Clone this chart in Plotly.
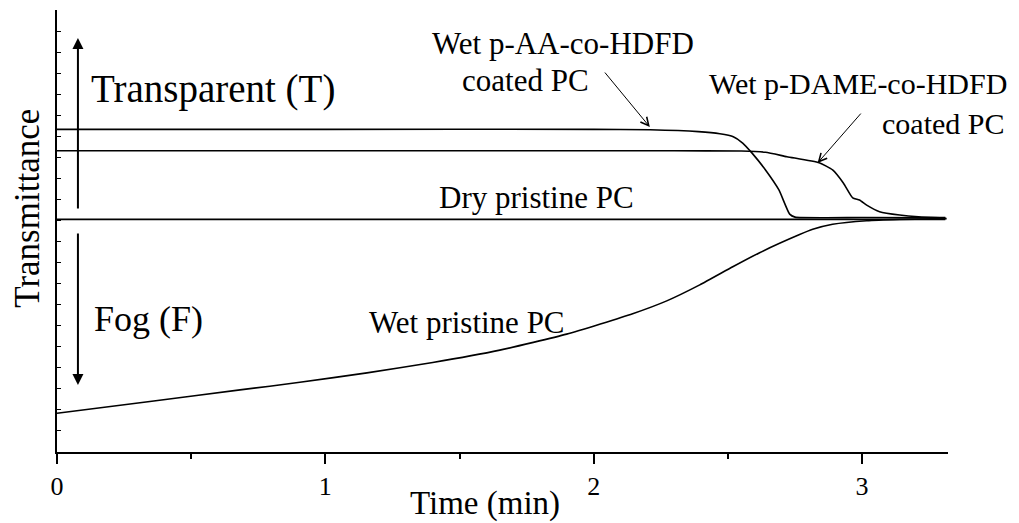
import plotly.graph_objects as go

FONT = "Liberation Serif, Times New Roman, serif"

# ---- data ----
dry_x = [0.0, 3.31]
dry_y = [11.05, 11.05]

aa_x = [0.0, 1.0, 2.0, 2.21, 2.39, 2.47, 2.52, 2.555, 2.59, 2.64, 2.69, 2.73, 2.75, 3.0, 3.31]
aa_y = [15.33, 15.33, 15.33, 15.31, 15.22, 15.12, 14.98, 14.68, 14.2, 13.4, 12.45, 11.3, 11.16, 11.14, 11.13]

dame_x = [0.0, 1.0, 2.3, 2.55, 2.64, 2.72, 2.84, 2.89, 2.93, 2.965, 2.99, 3.017, 3.065, 3.14, 3.21, 3.31]
dame_y = [14.31, 14.31, 14.31, 14.3, 14.24, 14.03, 13.74, 13.4, 12.78, 12.07, 11.97, 11.73, 11.42, 11.26, 11.18, 11.14]

wet_x = [0.0, 0.346, 0.682, 0.905, 1.155, 1.40, 1.65, 1.899, 2.145, 2.272, 2.395, 2.518, 2.618,
         2.767, 2.816, 2.89, 3.017, 3.14, 3.315]
wet_y = [1.84, 2.40, 2.95, 3.31, 3.76, 4.25, 4.84, 5.60, 6.57, 7.18, 7.94, 8.80, 9.47,
         10.33, 10.58, 10.82, 10.99, 11.05, 11.09]

x_ticks = [0, 1, 2, 3]
x_ticklabels = ["0", "1", "2", "3"]

fig = go.Figure()
for xs, ys in [(dry_x, dry_y), (aa_x, aa_y), (dame_x, dame_y), (wet_x, wet_y)]:
    fig.add_trace(go.Scatter(x=xs, y=ys, mode="lines",
                             line=dict(color="black", width=1.6, shape="spline", smoothing=0.5),
                             showlegend=False, hoverinfo="skip"))

ann = []
def text(t, x, y, size, xanchor="left", xref="x", yref="y", angle=0):
    ann.append(dict(text=t, x=x, y=y, xref=xref, yref=yref, showarrow=False,
                    xanchor=xanchor, yanchor="middle", textangle=angle, borderpad=0,
                    font=dict(family=FONT, size=size, color="black")))

def arrow(x, y, ax, ay, head, size, width):
    ann.append(dict(text="", x=x, y=y, ax=ax, ay=ay, xref="x", yref="y", axref="x", ayref="y",
                    showarrow=True, arrowhead=head, arrowsize=size, arrowwidth=width,
                    arrowcolor="black", standoff=0, startstandoff=0))

text("Transparent (T)", 0.122, 17.23, 39)
text("Fog (F)", 0.134, 6.32, 36)
text("Wet p-AA-co-HDFD", 1.395, 19.43, 31)
text("coated PC", 1.507, 17.65, 31)
text("Wet p-DAME-co-HDFD", 2.426, 17.52, 30)
text("coated PC", 3.072, 15.63, 30)
text("Dry pristine PC", 1.419, 12.1, 31)
text("Wet pristine PC", 1.158, 6.17, 31)
text("Transmittance", -0.034, 0.552, 35, xanchor="center", xref="paper", yref="paper", angle=-90)
text("Time (min)", 1.594, -0.116, 33, xanchor="center", yref="paper")

arrow(0.078, 19.67, 0.078, 11.5, 2, 1.1, 2)
arrow(0.078, 3.18, 0.078, 10.45, 2, 1.1, 2)
arrow(2.209, 15.44, 2.037, 18.1, 5, 1.6, 1)
arrow(2.834, 13.73, 3.0, 16.15, 5, 1.6, 1)

# page body has an 8px margin, so the figure is 8px smaller and margins are shifted by 8px
fig.update_layout(
    width=1011, height=515, autosize=False,
    margin=dict(l=49, r=71, t=2, b=71),
    paper_bgcolor="white", plot_bgcolor="white",
    font=dict(family=FONT, color="black"),
    annotations=ann,
    xaxis=dict(range=[0, 3.32], showgrid=False, zeroline=False, showline=True, linecolor="black",
               linewidth=2, ticks="outside", ticklen=10, tickwidth=1.5, tickcolor="black",
               tickvals=x_ticks, ticktext=x_ticklabels, tickfont=dict(family=FONT, size=26),
               minor=dict(dtick=0.5, tick0=0, ticks="outside", ticklen=5, tickwidth=1.5, tickcolor="black")),
    yaxis=dict(range=[0, 21], showgrid=False, zeroline=False, showline=True, linecolor="black",
               linewidth=2, ticks="inside", ticklen=4, tickwidth=1, tickcolor="black",
               tick0=0, dtick=1, showticklabels=False),
)

fig.write_html("out.html")
